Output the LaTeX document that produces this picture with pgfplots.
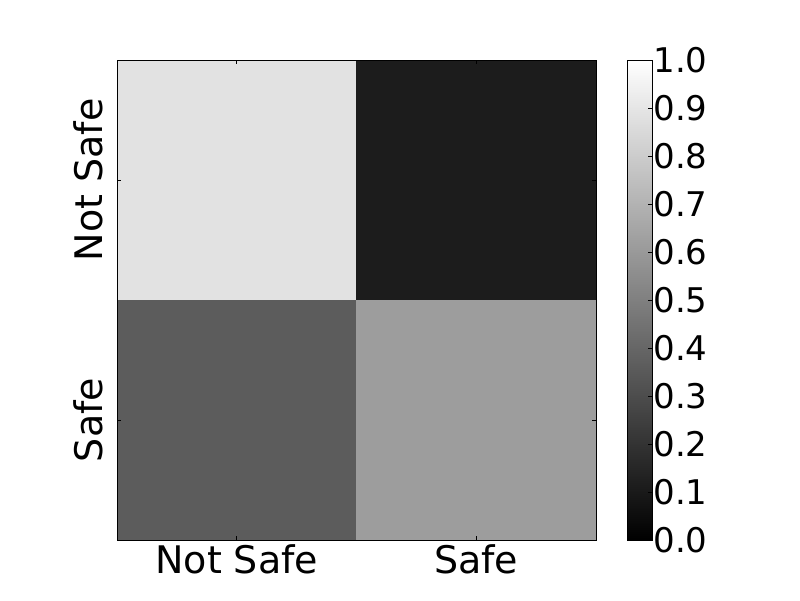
\documentclass[border=0pt]{standalone}
\usepackage{fontspec}
\setmainfont{DejaVu Sans}
\usepackage{pgfplots}
\pgfplotsset{compat=1.18}
\begin{document}
\begin{tikzpicture}[x=1pt,y=1pt]
\useasboundingbox (0,0) rectangle (800,600);
\begin{axis}[
  at={(117pt,60pt)}, anchor=south west,
  scale only axis, width=479pt, height=480pt,
  xmin=-0.5, xmax=1.5, ymin=-0.5, ymax=1.5,
  y dir=reverse,
  axis on top,
  xtick={0,1}, xticklabels={Not Safe, Safe},
  ytick={0,1}, yticklabels={Not Safe, Safe},
  yticklabel style={rotate=90, anchor=south},
  yticklabel shift=10pt,
  xticklabel shift=1pt,
  tick align=inside, major tick length=4pt,
  tick style={black, line width=0.6pt},
  axis line style={line width=0.8pt},
  ticklabel style={font=\fontsize{38}{44}\selectfont},
  colormap={bw}{gray(0cm)=(0); gray(1cm)=(1)},
  point meta min=0, point meta max=1,
  enlargelimits=false,
]
\addplot[matrix plot*, mesh/cols=2, point meta=explicit] table[meta=c] {
x y c
0 0 0.88
1 0 0.11
0 1 0.36
1 1 0.61
};
\end{axis}
\begin{axis}[
  at={(627pt,60pt)}, anchor=south west,
  scale only axis, width=25pt, height=480pt,
  xmin=0, xmax=1, ymin=0, ymax=1,
  axis on top,
  xtick=\empty,
  ytick={0,0.1,...,1.0},
  ytick pos=right,
  yticklabel pos=right,
  yticklabel style={font=\fontsize{34}{40}\selectfont, /pgf/number format/assume math mode=true, /pgf/number format/fixed, /pgf/number format/fixed zerofill, /pgf/number format/precision=1},
  yticklabel shift=-2pt,
  tick align=inside, major tick length=4pt,
  tick style={black, line width=0.6pt},
  axis line style={line width=0.8pt},
  colormap={bw}{gray(0cm)=(0); gray(1cm)=(1)},
  point meta min=0, point meta max=1,
  enlargelimits=false,
]
\addplot[surf, shader=interp, point meta=y] coordinates {
(0,0) (1,0)

(0,1) (1,1)
};
\end{axis}
\end{tikzpicture}
\end{document}
